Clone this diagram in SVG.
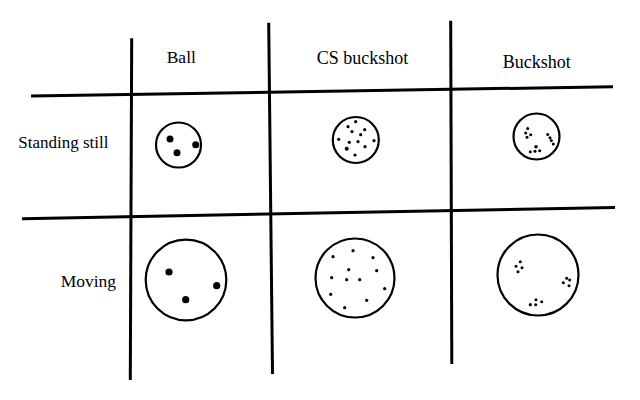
<svg xmlns="http://www.w3.org/2000/svg" width="640" height="400" viewBox="0 0 640 400">
<style>
.grid{stroke:#000;stroke-width:3;stroke-linecap:butt;fill:none}
.t{font-family:"Liberation Serif","Times New Roman",serif;fill:#000}
.tgt{fill:#fff;stroke:#000;stroke-width:2.2}
.ball{fill:#000}
</style>
<rect width="640" height="400" fill="#fff"/>
<g id="grid">
<line class="grid" x1="31" y1="96" x2="613" y2="86.7"/>
<line class="grid" x1="22" y1="218.7" x2="615" y2="207.5"/>
<line class="grid" x1="131.7" y1="38.3" x2="130.3" y2="380"/>
<line class="grid" x1="268.7" y1="22.7" x2="272.5" y2="374"/>
<line class="grid" x1="450.7" y1="20.7" x2="451.8" y2="364"/>
</g>
<g id="labels">
<text class="t" x="166.7" y="62.7" font-size="17.5">Ball</text>
<text class="t" x="316.7" y="64" font-size="18">CS buckshot</text>
<text class="t" x="502.7" y="67.7" font-size="18">Buckshot</text>
<text class="t" x="18.3" y="148.3" font-size="17">Standing still</text>
<text class="t" x="60.7" y="287.3" font-size="17.5">Moving</text>
</g>
<g id="ball-still">
<circle class="tgt" cx="178.5" cy="145" r="22.5"/>
<g class="ball">
<circle cx="170" cy="139" r="3.5"/><circle cx="195.7" cy="144.7" r="3.5"/><circle cx="177" cy="152.7" r="3.5"/>
</g>
</g>
<g id="cs-still">
<circle class="tgt" cx="355.8" cy="140" r="23"/>
<g class="ball">
<circle cx="355.7" cy="121.7" r="1.6"/><circle cx="348" cy="126.7" r="1.6"/><circle cx="364.7" cy="129.7" r="1.6"/>
<circle cx="352" cy="131.7" r="1.6"/><circle cx="360.7" cy="134.7" r="1.6"/><circle cx="338.7" cy="139.3" r="1.6"/>
<circle cx="349.3" cy="142.3" r="1.6"/><circle cx="358" cy="141.7" r="1.6"/><circle cx="374" cy="140.7" r="1.6"/>
<circle cx="365" cy="146.7" r="1.6"/><circle cx="346.7" cy="148.7" r="2"/><circle cx="355" cy="155" r="1.6"/>
</g>
</g>
<g id="buck-still">
<circle class="tgt" cx="536.5" cy="136.5" r="23"/>
<g class="ball">
<circle cx="527.7" cy="128.5" r="1.5"/><circle cx="525.7" cy="133" r="1.5"/><circle cx="530.7" cy="134.8" r="1.5"/><circle cx="527" cy="137.3" r="1.5"/>
<circle cx="547.7" cy="134.5" r="1.5"/><circle cx="550" cy="137.7" r="1.5"/><circle cx="551.3" cy="140.5" r="1.5"/><circle cx="553.3" cy="144" r="1.5"/>
<circle cx="536" cy="146.7" r="1.8"/><circle cx="530.3" cy="151.7" r="1.5"/><circle cx="535" cy="151.3" r="1.5"/><circle cx="539.7" cy="150.7" r="1.5"/>
</g>
</g>
<g id="ball-moving">
<circle class="tgt" cx="186" cy="280" r="40.3"/>
<g class="ball">
<circle cx="169" cy="272" r="3.6"/><circle cx="216.7" cy="285.7" r="3.6"/><circle cx="185.7" cy="299.7" r="3.6"/>
</g>
</g>
<g id="cs-moving">
<circle class="tgt" cx="355" cy="278" r="39.5"/>
<g class="ball">
<circle cx="353" cy="250.7" r="1.6"/><circle cx="333" cy="256.7" r="1.6"/><circle cx="373" cy="257.7" r="1.6"/>
<circle cx="348.7" cy="269.7" r="1.6"/><circle cx="376.7" cy="270.7" r="1.6"/><circle cx="331.7" cy="277.7" r="1.6"/>
<circle cx="346.7" cy="279.7" r="1.6"/><circle cx="359.7" cy="279.7" r="1.6"/><circle cx="384.7" cy="288.7" r="1.6"/>
<circle cx="330.7" cy="294.3" r="1.6"/><circle cx="366.7" cy="300.3" r="1.6"/><circle cx="344.7" cy="307.7" r="1.6"/>
</g>
</g>
<g id="buck-moving">
<circle class="tgt" cx="538" cy="275" r="40.5"/>
<g class="ball">
<circle cx="520.3" cy="261.7" r="1.5"/><circle cx="516" cy="266.3" r="1.5"/><circle cx="522" cy="267.7" r="1.5"/><circle cx="518" cy="271.7" r="1.5"/>
<circle cx="566.7" cy="278.3" r="1.5"/><circle cx="569.7" cy="280" r="1.5"/><circle cx="563.3" cy="282.7" r="1.5"/><circle cx="569" cy="285.7" r="1.5"/>
<circle cx="536" cy="299.7" r="1.5"/><circle cx="541.7" cy="301.7" r="1.5"/><circle cx="530.3" cy="304.7" r="1.6"/><circle cx="535.7" cy="304.7" r="1.5"/>
</g>
</g>
</svg>
